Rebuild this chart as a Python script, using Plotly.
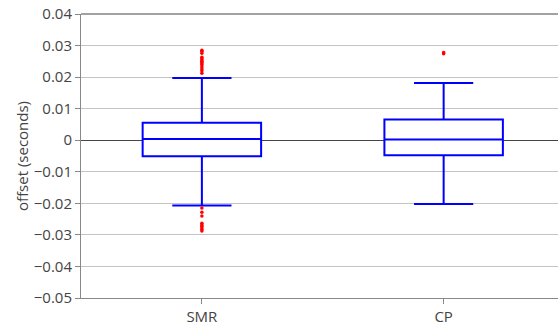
import plotly.graph_objects as go

categories = ["SMR", "CP"]
q1 = [-0.0051, -0.0048]
median = [0.0004, 0.0002]
q3 = [0.0055, 0.0066]
lowerfence = [-0.0207, -0.0202]
upperfence = [0.0197, 0.0181]

smr_outliers = [0.0285, 0.0282, 0.0276, 0.0263, 0.0258, 0.0254, 0.0250, 0.0246, 0.0242,
                0.0238, 0.0232, 0.0226, 0.0220, 0.0212,
                -0.0215, -0.0228, -0.0240, -0.0263, -0.0268, -0.0273, -0.0278, -0.0283, -0.0288]
cp_outliers = [0.0278, 0.0274]

fig = go.Figure()
fig.add_trace(go.Box(
    x=categories, q1=q1, median=median, q3=q3,
    lowerfence=lowerfence, upperfence=upperfence,
    line=dict(color="#0000ff", width=2), fillcolor="white",
    boxpoints=False, showlegend=False,
))
fig.add_trace(go.Scatter(
    x=[categories[0]] * len(smr_outliers) + [categories[1]] * len(cp_outliers),
    y=smr_outliers + cp_outliers,
    mode="markers", marker=dict(color="#ff0000", size=3.5),
    showlegend=False, hoverinfo="y",
))

fig.update_layout(
    width=558, height=329,
    margin=dict(l=81, r=0, t=14, b=31),
    paper_bgcolor="white", plot_bgcolor="white",
    font=dict(family="Open Sans, verdana, arial, sans-serif", color="#444", size=15),
    xaxis=dict(
        type="category", range=[-0.5, 1.473], automargin=False,
        showline=True, linecolor="#888", linewidth=1,
        ticks="outside", ticklen=5, tickcolor="#888",
        tickfont=dict(size=15),
        showgrid=False, zeroline=False,
    ),
    yaxis=dict(
        range=[-0.05, 0.04], dtick=0.01, tick0=0, automargin=False,
        showline=True, linecolor="#888", linewidth=1,
        ticks="outside", ticklen=5, tickcolor="#888",
        tickfont=dict(size=15), ticklabeloverflow="allow",
        showgrid=True, gridcolor="#c4c4c4", gridwidth=1,
        zeroline=True, zerolinecolor="#444", zerolinewidth=1,
        title=dict(text="offset (seconds)", font=dict(size=15), standoff=1),
    ),
    shapes=[dict(type="line", xref="paper", yref="paper", x0=0, x1=1, y0=1, y1=1,
                 line=dict(color="#444", width=1))],
)

fig.write_html("out.html", config={"displayModeBar": False})

with open("out.html", "r", encoding="utf-8") as f:
    html = f.read()
html = html.replace("<head>", "<head><style>html,body{margin:0;padding:0;overflow:hidden}</style>", 1)
with open("out.html", "w", encoding="utf-8") as f:
    f.write(html)
